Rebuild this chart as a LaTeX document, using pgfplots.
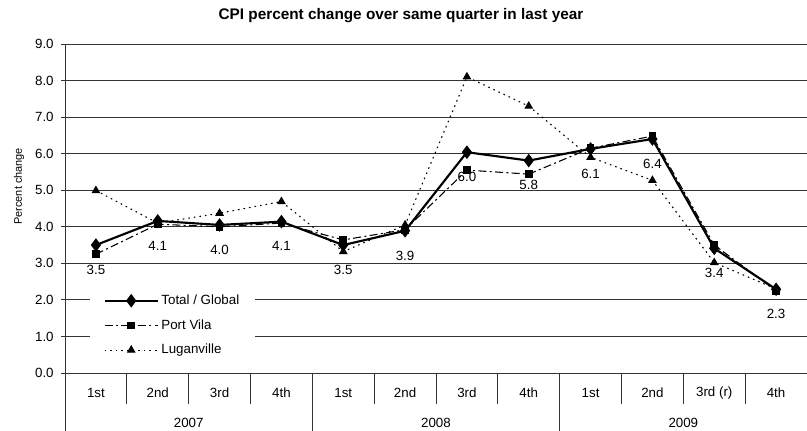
\documentclass[border=0pt]{standalone}
\usepackage{fontspec}
\setmainfont{Liberation Sans}
\usepackage{pgfplots}
\pgfplotsset{compat=1.18}
\usetikzlibrary{calc}
\begin{document}
\begin{tikzpicture}
\begin{axis}[name=ax, at={(0,0)}, anchor=south west,
 scale only axis, width=556.5pt, height=246.75pt,
 xmin=-0.5, xmax=11.5, ymin=0, ymax=9,
 ytick={0,1,...,9}, ymajorgrids, grid style={black!80, line width=0.6pt},
 axis line style={draw=none},
 xtick={0,1,...,11},
 xticklabels={1st,2nd,3rd,4th,1st,2nd,3rd,4th,1st,2nd,3rd (r),4th},
 x tick style={draw=none}, y tick style={black!80, line width=0.6pt},
 tick align=outside, ytick pos=left, xtick pos=left, major tick length=3pt,
 yticklabel={\pgfmathprintnumber[fixed,fixed zerofill,precision=1]{\tick}},
 /pgf/number format/assume math mode=true,
 tick label style={font=\fontsize{10}{12}\selectfont},
 xticklabel style={anchor=center, yshift=-12pt},
 yticklabel style={xshift=-2pt},
 clip=false,
 legend style={at={(0.0337,0.264)}, anchor=north west, fill=white, draw=none,
   font=\fontsize{10}{12}\selectfont, inner xsep=10pt, inner ysep=4pt,
   nodes={inner sep=2pt, text height=7.5pt, text depth=2pt}, row sep=5pt},
 legend cell align=left,
 legend image code/.code={\draw[mark repeat=2,mark phase=2,#1] plot coordinates {(0pt,0pt) (19.9pt,0pt) (39.75pt,0pt)};},
]
\addplot[black, line width=1.6pt, mark=diamond*, mark size=3.8pt,
  point meta=explicit symbolic, nodes near coords,
  every node near coord/.append style={font=\fontsize{10}{12}\selectfont, anchor=center, yshift=-18.5pt, text=black}]
 coordinates {(0,3.50)[3.5] (1,4.16)[4.1] (2,4.05)[4.0] (3,4.14)[4.1] (4,3.50)[3.5] (5,3.89)[3.9]
  (6,6.04)[6.0] (7,5.81)[5.8] (8,6.13)[6.1] (9,6.40)[6.4] (10,3.41)[3.4] (11,2.29)[2.3]};
\addlegendentry{Total / Global}
\addplot[black, line width=0.8pt, dash pattern=on 6pt off 2.5pt on 1.5pt off 2.5pt, mark=square*, mark size=2.5pt, mark options={solid}]
 coordinates {(0,3.25) (1,4.07) (2,4.00) (3,4.10) (4,3.64) (5,3.92) (6,5.55) (7,5.44) (8,6.15) (9,6.48) (10,3.50) (11,2.25)};
\addlegendentry{Port Vila}
\addplot[black, line width=0.8pt, dash pattern=on 1.2pt off 3pt, mark=triangle*, mark size=3pt, mark options={solid}]
 coordinates {(0,4.99) (1,4.10) (2,4.37) (3,4.69) (4,3.32) (5,4.05) (6,8.10) (7,7.30) (8,5.90) (9,5.27) (10,3.02) (11,2.30)};
\addlegendentry{Luganville}
\pgfplotsinvokeforeach{0.5,1.5,2.5,4.5,5.5,6.5,8.5,9.5,10.5}{
  \draw[black!80, line width=0.6pt] (axis cs:#1,0) -- ([yshift=-23.25pt]axis cs:#1,0);
}
\pgfplotsinvokeforeach{3.5,7.5}{
  \draw[black!80, line width=0.6pt] (axis cs:#1,0) -- ([yshift=-43.5pt]axis cs:#1,0);
}
\draw[black!80, line width=0.6pt] (axis cs:-0.5,9) -- ([yshift=-43.5pt]axis cs:-0.5,0);
\node[font=\fontsize{10}{12}\selectfont, yshift=-37.5pt] at (axis cs:1.5,0) {2007};
\node[font=\fontsize{10}{12}\selectfont, yshift=-37.5pt] at (axis cs:5.5,0) {2008};
\node[font=\fontsize{10}{12}\selectfont, yshift=-37.5pt] at (axis cs:9.5,0) {2009};
\end{axis}
\node[font=\bfseries\fontsize{11.5}{13}\selectfont] at ($(ax.south west)+(252pt,267.75pt)$) {CPI percent change over same quarter in last year};
\node[rotate=90, font=\fontsize{8.2}{10}\selectfont] at ($(ax.south west)+(-34.5pt,140pt)$) {Percent change};
\pgfresetboundingbox
\useasboundingbox ($(ax.south west)+(-48.75pt,-43.5pt)$) rectangle ($(ax.north east)+(0pt,33pt)$);
\end{tikzpicture}
\end{document}
